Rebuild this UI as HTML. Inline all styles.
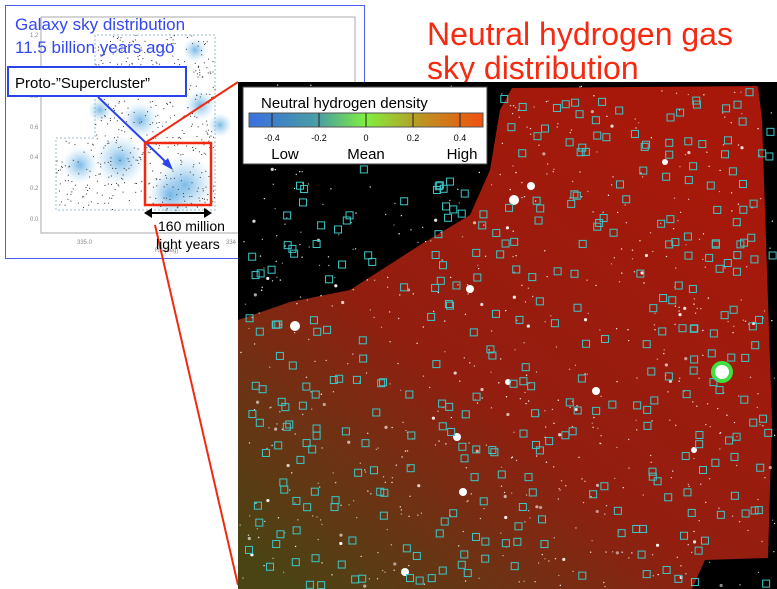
<!DOCTYPE html>
<html><head><style>
body{margin:0;background:#fff;width:777px;height:589px;overflow:hidden;font-family:"Liberation Sans",sans-serif}
</style></head><body>
<svg id="s" width="777" height="589" xmlns="http://www.w3.org/2000/svg" style="position:absolute;left:0;top:0">
<defs>
<linearGradient id="g1" x1="0.85" y1="0.1" x2="0.1" y2="1">
<stop offset="0" stop-color="#a8180a"/><stop offset="0.55" stop-color="#921e10"/><stop offset="0.8" stop-color="#6a3414"/><stop offset="1" stop-color="#4a4414"/>
</linearGradient>
<linearGradient id="cb"><stop offset="0" stop-color="#3a6ee0"/><stop offset="0.3" stop-color="#4aa0a0"/><stop offset="0.5" stop-color="#80f040"/><stop offset="0.75" stop-color="#c09020"/><stop offset="1" stop-color="#f05010"/></linearGradient>
<radialGradient id="bl"><stop offset="0" stop-color="#5aa8e0" stop-opacity="0.8"/><stop offset="1" stop-color="#9cd0f0" stop-opacity="0"/></radialGradient>
</defs>
<rect x="5.5" y="5.5" width="359" height="253" fill="#fff" stroke="#4a5ef0" stroke-width="1"/>
<rect x="41" y="17" width="314" height="216" fill="none" stroke="#aaa"/>
<polyline points="56,210 56,138 95,138 95,35 215,35 215,210 56,210" fill="none" stroke="#9bc" stroke-dasharray="2,2"/>
<g id="blobs"></g>
<g id="dots" fill="#333"></g>
<g font-size="6" fill="#888"><text x="30" y="37">1.2</text><text x="30" y="98">0.8</text><text x="30" y="129">0.6</text><text x="30" y="159">0.4</text><text x="30" y="190">0.2</text><text x="30" y="221">0.0</text><text x="77" y="244">335.0</text><text x="226" y="244">334</text><text x="155" y="252">RA [deg]</text></g>
<text x="15" y="30" font-size="17" fill="#3348f0">Galaxy sky distribution</text>
<text x="15" y="53" font-size="17" fill="#3348f0">11.5 billion years ago</text>
<rect x="8" y="67" width="178" height="29" fill="#fff" stroke="#2a44e8" stroke-width="2"/>
<text x="15" y="88" font-size="15" fill="#000">Proto-”Supercluster”</text>
<line x1="98" y1="97" x2="168" y2="164" stroke="#2a44e8" stroke-width="2"/>
<polygon points="173,170 162,164 168,158" fill="#2a44e8"/>
<rect x="145" y="143" width="66" height="62" fill="none" stroke="#f02a10" stroke-width="2.5"/>
<line x1="145" y1="143" x2="238" y2="82" stroke="#f02a10" stroke-width="2"/>
<line x1="155" y1="225" x2="238" y2="585" stroke="#f02a10" stroke-width="2"/>
<line x1="146" y1="213" x2="210" y2="213" stroke="#000" stroke-width="2"/>
<polygon points="144,213 152,208 152,218"/><polygon points="212,213 204,208 204,218"/>
<text x="158" y="231" font-size="14">160 million</text>
<text x="156" y="249" font-size="14">light years</text>
<text x="427" y="45" font-size="32" fill="#f52a10">Neutral hydrogen gas</text>
<text x="427" y="79" font-size="32" fill="#f52a10">sky distribution</text>
<rect x="238" y="82" width="539" height="507" fill="#000"/>
<polygon points="512,88 758,86 762,120 768,300 772,420 768,558 705,560 692,589 238,589 238,320 290,302 350,290 420,245 470,215 490,170 500,110" fill="url(#g1)"/>
<circle cx="722" cy="372" r="9" fill="#fff" stroke="#40e040" stroke-width="4"/>
<g id="stars" fill="#fff"></g>
<g id="sq" fill="none" stroke="#3cc8c8" stroke-width="1"></g>
<rect x="243" y="87" width="244" height="77" fill="#fff" stroke="#444"/>
<text x="261" y="108" font-size="15">Neutral hydrogen density</text>
<rect x="249" y="113" width="234" height="14" fill="url(#cb)" stroke="#555"/>
<g stroke="#222"><line x1="272" y1="113" x2="272" y2="127"/><line x1="319" y1="113" x2="319" y2="127"/><line x1="366" y1="113" x2="366" y2="127"/><line x1="413" y1="113" x2="413" y2="127"/><line x1="460" y1="113" x2="460" y2="127"/></g>
<g font-size="9" text-anchor="middle"><text x="272" y="141">-0.4</text><text x="319" y="141">-0.2</text><text x="366" y="141">0</text><text x="413" y="141">0.2</text><text x="460" y="141">0.4</text></g>
<g font-size="15" text-anchor="middle"><text x="285" y="159">Low</text><text x="366" y="159">Mean</text><text x="462" y="159">High</text></g>
</svg>
<script>
var s=12345;function r(){s=(s*16807)%2147483647;return s/2147483647;}
var NS="http://www.w3.org/2000/svg";
function el(g,t,a){var e=document.createElementNS(NS,t);for(var k in a)e.setAttribute(k,a[k]);document.getElementById(g).appendChild(e);}
var bl=[[185,185,30],[170,195,22],[120,160,25],[80,165,18],[200,105,15],[140,120,18],[220,125,12],[195,50,12],[100,110,12]];
bl.forEach(function(b){el("blobs","circle",{cx:b[0],cy:b[1],r:b[2],fill:"url(#bl)"});});
for(var i=0;i<600;i++){var x=56+r()*159,y=35+r()*175;if(x<95&&y<138)continue;el("dots","rect",{x:x,y:y,width:1,height:1});}
for(var i=0;i<700;i++){var x=240+r()*535,y=85+r()*502;el("stars","circle",{cx:x,cy:y,r:r()<0.9?0.7:1.6,opacity:0.5+r()*0.5});}
[[295,326,5],[514,200,5],[531,186,4],[470,289,4],[457,437,4],[463,492,4],[405,572,4],[596,391,4],[694,450,3],[665,162,3],[508,382,3]].forEach(function(b){el("stars","circle",{cx:b[0],cy:b[1],r:b[2]});});
for(var i=0;i<300;i++){var x=245+r()*525,y=165+r()*420;el("sq","rect",{x:x,y:y,width:7,height:7});}
for(var i=0;i<40;i++){var x=495+r()*275,y=88+r()*75;el("sq","rect",{x:x,y:y,width:7,height:7});}
</script>
</body></html>
